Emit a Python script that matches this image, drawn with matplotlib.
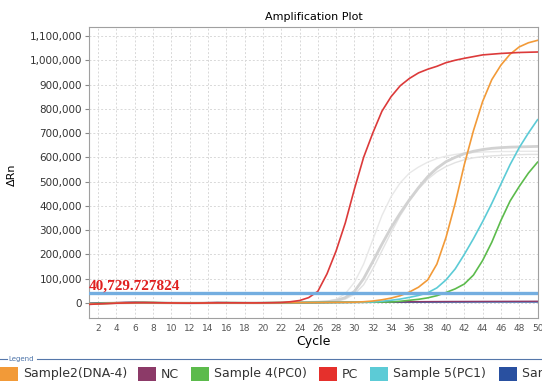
import matplotlib
matplotlib.use("Agg")
import matplotlib.pyplot as plt
from matplotlib.patches import Rectangle
from matplotlib.lines import Line2D
from matplotlib.ticker import FuncFormatter, MultipleLocator

plt.rcParams['font.family'] = ['DejaVu Sans']

cycles = list(range(1, 51))

# delta Rn per cycle
pc = [-6000, -4000, -2500, -1000, 0, 800, 1200, 1000, 500, 0,
      -500, -800, -500, 0, 400, 600, 500, 300, 200, 500,
      1000, 2000, 5000, 10000, 22000, 48000, 120000, 215000, 330000, 470000,
      600000, 700000, 790000, 850000, 895000, 925000, 948000, 963000, 975000, 990000,
      1000000, 1008000, 1015000, 1022000, 1025000, 1028000, 1030000, 1032000, 1033000, 1034000]
sample2 = [-5000, -3500, -2000, -800, 200, 900, 1300, 1100, 600, 100,
           -400, -700, -400, 100, 500, 700, 600, 400, 300, 500,
           800, 1000, 1200, 1300, 1500, 1700, 2000, 2300, 2600, 3000,
           5000, 8000, 13000, 20000, 30000, 45000, 65000, 95000, 160000, 270000,
           410000, 570000, 710000, 830000, 920000, 980000, 1025000, 1055000, 1072000, 1082000]
sample5 = [-4000, -3000, -1500, -500, 300, 1000, 1400, 1200, 700, 200,
           -300, -600, -300, 200, 600, 800, 700, 500, 400, 600,
           900, 1100, 1300, 1500, 1700, 1900, 2100, 2400, 2700, 3000,
           3400, 4000, 7000, 11000, 16000, 23000, 31000, 42000, 62000, 95000,
           140000, 200000, 265000, 335000, 410000, 490000, 570000, 640000, 700000, 755000]
sample4 = [-3000, -2000, -1000, 0, 600, 1200, 1500, 1300, 800, 300,
           -200, -500, -200, 300, 700, 900, 800, 600, 500, 700,
           1000, 1200, 1400, 1600, 1800, 2000, 2200, 2400, 2600, 2800,
           3000, 3300, 3600, 4000, 7000, 11000, 15000, 21000, 30000, 43000,
           58000, 78000, 115000, 175000, 250000, 340000, 420000, 480000, 535000, 580000]
nc = [-2000, -1000, 0, 1500, 2500, 3000, 2500, 1500, 500, -500,
      -1000, -500, 500, 1500, 2000, 1500, 500, 0, -500, 0,
      500, 1000, 1200, 1500, 1800, 2000, 2300, 2600, 3000, 3300,
      3600, 4000, 4300, 4600, 4900, 5200, 5400, 5600, 5800, 6000,
      6100, 6200, 6300, 6400, 6500, 6600, 6700, 6800, 6900, 7000]
sample6 = [-1500, -800, 0, 800, 1500, 1800, 1500, 800, 200, -300,
           -600, -300, 300, 900, 1200, 900, 300, 0, -300, 0,
           300, 600, 800, 1000, 1200, 1400, 1600, 1800, 2000, 2200,
           2400, 2600, 2800, 3000, 3100, 3200, 3300, 3400, 3500, 3600,
           3700, 3800, 3900, 4000, 4000, 4000, 4000, 4000, 4000, 4000]
# other wells, drawn in grey
grey_a = [-3000, -2000, -1000, 0, 500, 1000, 1200, 1000, 600, 200,
          -200, -400, -200, 200, 500, 700, 600, 400, 300, 500,
          700, 900, 1200, 1600, 2200, 3200, 5000, 10000, 22000, 48000,
          100000, 170000, 242000, 310000, 370000, 425000, 475000, 520000, 555000, 582000,
          600000, 615000, 625000, 632000, 637000, 640000, 642000, 643000, 644000, 645000]
grey_b = [-2500, -1500, -500, 300, 800, 1100, 1200, 900, 500, 100,
          -300, -500, -300, 100, 400, 600, 500, 300, 300, 500,
          800, 1100, 1600, 2300, 3300, 4500, 7000, 15000, 38000, 85000,
          160000, 260000, 360000, 438000, 495000, 535000, 560000, 580000, 595000, 605000,
          612000, 617000, 620000, 622000, 623000, 624000, 624000, 625000, 625000, 625000]
grey_c = [-3000, -2000, -1000, 0, 500, 1000, 1200, 1000, 600, 200,
          -200, -400, -200, 200, 500, 700, 600, 400, 300, 500,
          700, 900, 1200, 1600, 2200, 3000, 4000, 7000, 16000, 36000,
          75000, 140000, 215000, 290000, 360000, 420000, 470000, 510000, 540000, 562000,
          578000, 590000, 598000, 603000, 606000, 608000, 610000, 611000, 612000, 612000]

threshold = 40729.727824

legend_labels = ["Sample2(DNA-4)", "NC", "Sample 4(PC0)", "PC", "Sample 5(PC1)", "Sample 6"]
legend_colors = ["#f29a38", "#8c3a68", "#5cbb4c", "#e5302c", "#5ccbd6", "#2950a0"]
legend_x = [0.0, 138, 191, 319, 370, 499]  # left edge of each swatch, px

fig = plt.figure(figsize=(5.42, 3.84), dpi=100)
ax = fig.add_axes([89 / 542, 66 / 384, 449 / 542, 291 / 384])

ax.plot(cycles, grey_b, color="#e8e8e8", lw=1.0, zorder=1)
ax.plot(cycles, grey_c, color="#e2e2e2", lw=1.0, zorder=1)
ax.plot(cycles, grey_a, color="#d2d2d2", lw=2.0, zorder=1)
ax.plot(cycles, sample6, color=legend_colors[5], lw=1.0, zorder=2)
ax.plot(cycles, nc, color=legend_colors[1], lw=1.0, zorder=2)
ax.plot(cycles, sample4, color=legend_colors[2], lw=1.2, zorder=3)
ax.plot(cycles, sample5, color=legend_colors[4], lw=1.2, zorder=3)
ax.plot(cycles, sample2, color=legend_colors[0], lw=1.2, zorder=3)
ax.plot(cycles, pc, color="#dc3a3a", lw=1.2, zorder=4)

ax.axhline(threshold, color="#74aee0", lw=2.4, zorder=5)
ax.text(1.0, threshold + 3000, f"{threshold:,.6f}", color="#e02020",
        family="Liberation Serif", fontweight="bold", fontsize=11,
        va="bottom", ha="left", zorder=6)

ax.set_xlim(1, 50.05)
ax.set_ylim(-62000, 1137000)
ax.xaxis.set_major_locator(MultipleLocator(2))
ax.yaxis.set_major_locator(MultipleLocator(100000))
ax.yaxis.set_major_formatter(FuncFormatter(lambda v, p: f"{int(v):,}"))
ax.grid(True, color="#d8d8d8", ls=(0, (2, 2)), lw=0.7)
ax.set_axisbelow(True)
ax.tick_params(axis="y", labelsize=7.5, length=3, color="#888888", labelcolor="#333333", pad=2)
ax.tick_params(axis="x", labelsize=6.5, length=0, labelcolor="#555555", pad=4)
for s in ax.spines.values():
    s.set_color("#a0a0a0")
    s.set_linewidth(0.8)

ax.set_title("Amplification Plot", fontsize=8, pad=5)
fig.text(12 / 542, 1 - 175 / 384, "ΔRn", rotation=90, fontsize=8, ha="center", va="center")
fig.text(313 / 542, 1 - 341 / 384, "Cycle", fontsize=9, ha="center", va="center")

# legend strip at the bottom (cut off at the right, as in the source screenshot)
fig.add_artist(Line2D([0, 7 / 542], [1 - 359 / 384] * 2, color="#5577aa", lw=0.8))
fig.add_artist(Line2D([37 / 542, 1], [1 - 359 / 384] * 2, color="#5577aa", lw=0.8))
fig.text(8 / 542, 1 - 359 / 384, "Legend", fontsize=5, color="#4a72a8", va="center", ha="left")
for lab, col, x0 in zip(legend_labels, legend_colors, legend_x):
    fig.add_artist(Rectangle((x0 / 542, 1 - 381 / 384), 18 / 542, 14 / 384,
                             facecolor=col, edgecolor="none"))
    fig.text((x0 + 23) / 542, 1 - 374 / 384, lab, fontsize=9, color="#333333",
             va="center", ha="left")

fig.savefig("out.png", dpi=100)
